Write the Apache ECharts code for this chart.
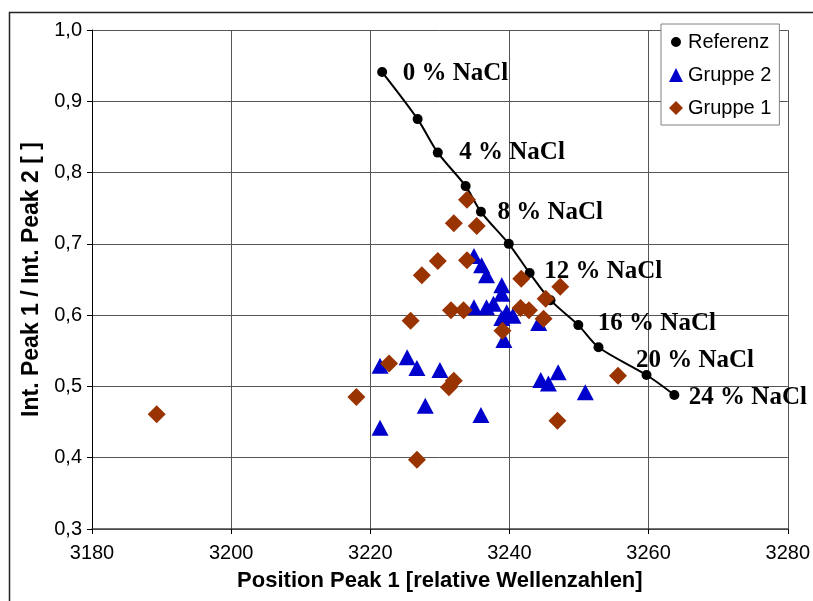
<!DOCTYPE html>
<html>
<head>
<meta charset="utf-8">
<script src="https://cdn.jsdelivr.net/npm/echarts@6/dist/echarts.min.js"></script>
<style>
  html, body { margin: 0; padding: 0; background: #fff; }
  #chart { width: 813px; height: 601px; }
</style>
</head>
<body>
<div id="chart"></div>
<script>
// Reference calibration curve (NaCl standards)
const refX = [3221.7, 3226.8, 3229.7, 3233.7, 3235.9, 3239.9, 3242.9, 3245.9, 3249.9, 3252.8, 3259.7, 3263.7];
const refY = [0.941, 0.875, 0.828, 0.781, 0.745, 0.700, 0.659, 0.621, 0.586, 0.555, 0.516, 0.488];
const refLabels = ['0 % NaCl', '', '4 % NaCl', '', '8 % NaCl', '', '12 % NaCl', '', '16 % NaCl', '', '20 % NaCl', '24 % NaCl'];

// Gruppe 2 samples
const g2X = [3221.4, 3221.4, 3225.3, 3226.7, 3227.9, 3230.0, 3234.9, 3236.0, 3236.7, 3234.9, 3236.7, 3237.7,
             3238.9, 3238.9, 3239.6, 3240.5, 3238.9, 3239.2, 3244.2, 3235.9, 3244.5, 3245.6, 3247.0, 3250.9];
const g2Y = [0.442, 0.529, 0.541, 0.526, 0.473, 0.523, 0.683, 0.670, 0.656, 0.611, 0.611, 0.616,
             0.642, 0.630, 0.604, 0.599, 0.596, 0.565, 0.589, 0.460, 0.509, 0.504, 0.520, 0.492];

// Gruppe 1 samples
const g1X = [3189.3, 3218.0, 3222.7, 3225.8, 3226.7, 3227.4, 3229.7, 3231.6, 3231.3, 3232.0, 3232.0, 3233.4,
             3233.9, 3233.9, 3235.3, 3239.0, 3241.6, 3241.7, 3242.8, 3244.9, 3245.2, 3247.3, 3255.6, 3246.9];
const g1Y = [0.461, 0.485, 0.532, 0.592, 0.397, 0.656, 0.676, 0.607, 0.499, 0.508, 0.729, 0.607,
             0.762, 0.677, 0.725, 0.578, 0.610, 0.651, 0.607, 0.595, 0.623, 0.640, 0.515, 0.452];

// Axis ranges
const xMin = 3180, xMax = 3280, xStep = 20;
const yMin = 0.3, yMax = 1.0, yStep = 0.1;

// Label nudges for the concentration tags, [dx, dy] in pixels
const tagNudge = [[15.5, 1], null, [16.5, 0], null, [11.5, 1], null, [9.5, -2], null, [14.5, -2], null, [-15.5, -14], [9.5, 3]];

const zip = (xs, ys) => xs.map((x, i) => [x, ys[i]]);

const refData = refX.map((x, i) => {
  const item = { value: [x, refY[i]] };
  if (refLabels[i]) {
    item.label = {
      show: true,
      formatter: refLabels[i],
      position: 'right',
      distance: 0,
      offset: tagNudge[i]
    };
  }
  return item;
});

const sans = 'Arial, "Liberation Sans", sans-serif';
const serif = '"Times New Roman", "Liberation Serif", serif';

// legend dot padded inside a 14x14 box so it draws smaller than the other icons
const dotIcon = 'path://M0,0 M14,14 M7,2 A5,5 0 1,1 6.99,2 Z';

const chart = echarts.init(document.getElementById('chart'), null, { renderer: 'canvas' });
chart.setOption({
  animation: false,
  backgroundColor: '#fff',
  graphic: [{
    type: 'rect',
    left: 7, top: 10,
    shape: { width: 900, height: 700 },
    style: { fill: 'none', stroke: '#222', lineWidth: 1.5 },
    silent: true,
    z: -1
  }],
  grid: { left: 92, right: 22, top: 30, bottom: 72, containLabel: false },
  xAxis: {
    type: 'value',
    min: xMin, max: xMax, interval: xStep,
    name: 'Position Peak 1 [relative Wellenzahlen]',
    nameLocation: 'middle',
    nameGap: 41,
    nameTextStyle: { fontFamily: sans, fontWeight: 'bold', fontSize: 22, color: '#000' },
    axisLine: { show: true, onZero: false, lineStyle: { color: '#444', width: 1.5 } },
    axisTick: { show: true, inside: false, length: 5, lineStyle: { color: '#000' } },
    axisLabel: { fontFamily: sans, fontSize: 20, color: '#000', margin: 14, formatter: v => String(v) },
    splitLine: { show: true, lineStyle: { color: '#555', width: 1 } }
  },
  yAxis: {
    type: 'value',
    min: yMin, max: yMax, interval: yStep,
    name: 'Int. Peak 1 / Int. Peak 2 [ ]',
    nameLocation: 'middle',
    nameGap: 41,
    nameTextStyle: { fontFamily: sans, fontWeight: 'bold', fontSize: 23, color: '#000' },
    axisLine: { show: true, onZero: false, lineStyle: { color: '#000', width: 1 } },
    axisTick: { show: true, inside: false, length: 5, lineStyle: { color: '#000' } },
    axisLabel: {
      fontFamily: sans, fontSize: 20, color: '#000', margin: 10,
      formatter: v => v.toFixed(1).replace('.', ',')
    },
    splitLine: { show: true, lineStyle: { color: '#555', width: 1 } }
  },
  legend: {
    orient: 'vertical',
    left: 661, top: 24,
    padding: [8, 8, 7, 8],
    itemGap: 13,
    itemWidth: 14, itemHeight: 14,
    backgroundColor: '#fff',
    borderColor: '#808080', borderWidth: 1,
    textStyle: { fontFamily: sans, fontSize: 20, color: '#000' },
    data: [
      { name: 'Referenz', icon: dotIcon },
      { name: 'Gruppe 2', icon: 'triangle' },
      { name: 'Gruppe 1', icon: 'diamond' }
    ]
  },
  series: [
    {
      name: 'Referenz',
      type: 'line',
      data: refData,
      smooth: 0.3,
      symbol: 'circle',
      symbolSize: 10,
      showAllSymbol: true,
      lineStyle: { color: '#000', width: 2 },
      itemStyle: { color: '#000', opacity: 1 },
      label: {
        fontFamily: serif, fontWeight: 'bold', fontSize: 25, color: '#000'
      },
      z: 2
    },
    {
      name: 'Gruppe 2',
      type: 'scatter',
      data: zip(g2X, g2Y),
      symbol: 'triangle',
      symbolSize: [17, 16],
      itemStyle: { color: '#0000cc', opacity: 1 },
      z: 3
    },
    {
      name: 'Gruppe 1',
      type: 'scatter',
      data: zip(g1X, g1Y),
      symbol: 'diamond',
      symbolSize: 18,
      itemStyle: { color: '#993300', opacity: 1 },
      z: 4
    }
  ]
});
</script>
</body>
</html>
